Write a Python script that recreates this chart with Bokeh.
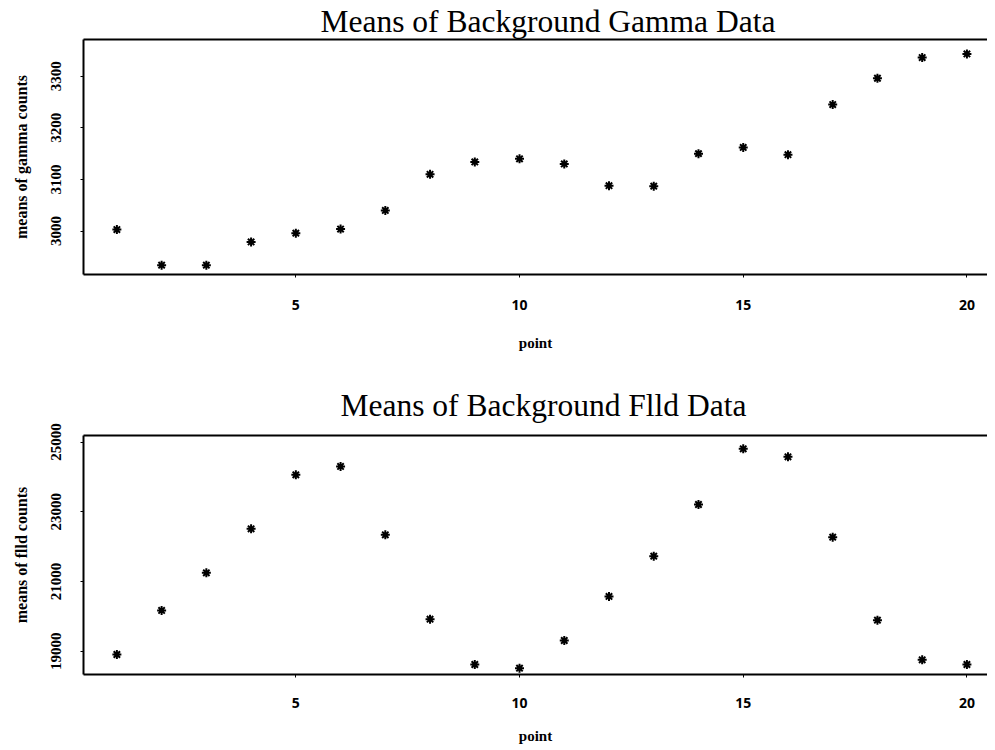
from bokeh.plotting import figure
from bokeh.models import Range1d, FixedTicker, LinearAxis
from bokeh.layouts import column
from bokeh.embed import file_html
from bokeh.resources import INLINE

points = list(range(1, 21))
gamma_means = [3003, 2934, 2934, 2979, 2996, 3004, 3040, 3110, 3134, 3140,
               3130, 3088, 3087, 3150, 3162, 3148, 3245, 3296, 3336, 3343]
flld_means = [18905, 20168, 21250, 22512, 24062, 24300, 22340, 19918, 18618, 18512,
              19307, 20570, 21726, 23209, 24808, 24578, 22271, 19890, 18753, 18618]
x_ticks = [5, 10, 15, 20]
gamma_ticks = [3000, 3100, 3200, 3300]
flld_ticks = [19000, 21000, 23000, 25000]

SERIF = "Liberation Serif"
SANS = "Open Sans"


def make_panel(title, ylabel, yvals, yticks, yr, title_offset, title_standoff,
               bottom_border, xl_standoff, xa_standoff):
    p = figure(frame_width=904, frame_height=yr[2], x_range=Range1d(0.254, 20.46),
               y_range=Range1d(yr[0], yr[1]), output_backend="svg", toolbar_location=None,
               min_border_left=83, min_border_right=0, min_border_top=0,
               min_border_bottom=bottom_border, title=title)
    p.outline_line_color = None
    p.xgrid.visible = False
    p.ygrid.visible = False
    p.background_fill_color = "white"
    p.border_fill_color = "white"

    p.title.align = "left"
    p.title.offset = title_offset
    p.title.standoff = title_standoff
    p.title.text_font = SERIF
    p.title.text_font_size = "31.5px"
    p.title.text_font_style = "normal"
    p.title.text_color = "black"

    top_axis = LinearAxis(ticker=FixedTicker(ticks=[]), major_label_text_font_size="0px",
                          major_tick_out=0, major_tick_in=0, minor_tick_out=0, minor_tick_in=0,
                          major_label_standoff=0, axis_line_width=2, axis_line_color="black")
    p.add_layout(top_axis, "above")

    xa = [a for a in p.below if isinstance(a, LinearAxis)][0]
    xa.ticker = FixedTicker(ticks=x_ticks)
    xa.axis_label = "point"
    xa.axis_label_text_font = SERIF
    xa.axis_label_text_font_style = "bold"
    xa.axis_label_text_font_size = "15px"
    xa.axis_label_text_color = "black"
    xa.axis_label_standoff = xa_standoff
    xa.major_label_text_font = SANS
    xa.major_label_text_font_style = "bold"
    xa.major_label_text_font_size = "14px"
    xa.major_label_text_color = "black"
    xa.major_label_standoff = xl_standoff
    xa.axis_line_width = 2
    xa.axis_line_color = "black"
    xa.major_tick_out = 3
    xa.major_tick_in = 0
    xa.minor_tick_out = 0
    xa.minor_tick_in = 0

    ya = [a for a in p.left if isinstance(a, LinearAxis)][0]
    ya.ticker = FixedTicker(ticks=yticks)
    ya.axis_label = ylabel
    ya.axis_label_text_font = SERIF
    ya.axis_label_text_font_style = "bold"
    ya.axis_label_text_font_size = "16px"
    ya.axis_label_text_color = "black"
    ya.axis_label_standoff = 19
    ya.major_label_text_font = SERIF
    ya.major_label_text_font_style = "bold"
    ya.major_label_text_font_size = "15px"
    ya.major_label_text_color = "black"
    ya.major_label_orientation = "vertical"
    ya.major_label_standoff = 19
    ya.axis_line_width = 2
    ya.axis_line_color = "black"
    ya.major_tick_out = 3
    ya.major_tick_in = 0
    ya.minor_tick_out = 0
    ya.minor_tick_in = 0

    p.scatter(points, yvals, marker="asterisk", size=9, line_width=2, line_color="black")
    return p


p1 = make_panel("Means of Background Gamma Data", "means of gamma counts", gamma_means,
                gamma_ticks, (2916, 3371, 235), 237, 2, 98, 22, 22)
p2 = make_panel("Means of Background Flld Data", "means of flld counts", flld_means,
                flld_ticks, (18331, 25189, 239), 257, 26, 0, 20, 17)

layout = column(p1, p2, spacing=0)
open("out.html", "w").write(file_html(layout, INLINE))
